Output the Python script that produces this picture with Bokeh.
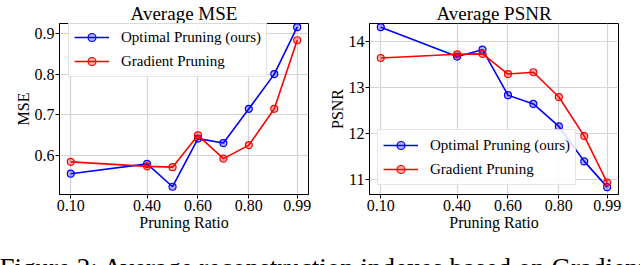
from bokeh.plotting import figure
from bokeh.layouts import row, column
from bokeh.models import FixedTicker, Legend, LegendItem, Label, Range1d, Title
from bokeh.embed import file_html
from bokeh.resources import INLINE

ratios = [0.10, 0.40, 0.50, 0.60, 0.70, 0.80, 0.90, 0.99]
x_ticks = [0.10, 0.40, 0.60, 0.80, 0.99]
x_tick_labels = ["0.10", "0.40", "0.60", "0.80", "0.99"]
mse_optimal = [0.556, 0.580, 0.524, 0.642, 0.631, 0.715, 0.800, 0.915]
mse_gradient = [0.585, 0.574, 0.572, 0.650, 0.593, 0.626, 0.715, 0.883]
psnr_optimal = [14.31, 13.67, 13.82, 12.83, 12.64, 12.15, 11.39, 10.83]
psnr_gradient = [13.64, 13.72, 13.73, 13.29, 13.33, 12.79, 11.94, 10.93]
mse_ticks = [0.6, 0.7, 0.8, 0.9]
mse_tick_labels = ["0.6", "0.7", "0.8", "0.9"]
psnr_ticks = [11, 12, 13, 14]
psnr_tick_labels = ["11", "12", "13", "14"]
series_names = ["Optimal Pruning (ours)", "Gradient Pruning"]
series_colors = ["#0000ff", "#ff0000"]
caption = "Figure 2: Average reconstruction indexes based on Gradient"

FONT = "Liberation Serif"
FIG_H = 240
B_BOT = 46
FRAME_TOP = 22
FRAME_H = FIG_H - B_BOT - FRAME_TOP
FRAME_W = 249


def style_axis(ax, label):
    ax.axis_label = label
    ax.axis_label_text_font = FONT
    ax.axis_label_text_font_size = "16px"
    ax.axis_label_text_font_style = "normal"
    ax.axis_label_text_color = "black"
    ax.major_label_text_font = FONT
    ax.major_label_text_font_size = "16px"
    ax.major_label_text_font_style = "normal"
    ax.major_label_text_color = "black"
    ax.axis_line_color = "black"
    ax.major_tick_line_color = "black"
    ax.major_tick_out = 4
    ax.major_tick_in = 0
    ax.minor_tick_line_color = None
    ax.major_label_standoff = 1
    ax.axis_label_standoff = 0


def make_panel(title, ylabel, ys, yticks, ylabels, yrange, bl, legend_loc):
    ttl = Title(text=title, align="center", text_font=FONT, text_font_size="19px",
                text_font_style="normal", text_color="black", standoff=0, offset=0)
    p = figure(width=320, height=FIG_H, output_backend="svg", toolbar_location=None,
               x_range=Range1d(0.0555, 1.0345), y_range=Range1d(*yrange),
               min_border_left=bl, min_border_right=320 - bl - FRAME_W,
               min_border_top=FRAME_TOP, min_border_bottom=B_BOT, title=ttl)

    p.outline_line_color = "black"
    p.outline_line_width = 1
    p.outline_line_alpha = 1

    xax = p.xaxis[0]
    yax = p.yaxis[0]
    xax.ticker = FixedTicker(ticks=x_ticks)
    xax.major_label_overrides = dict(zip(x_ticks, x_tick_labels))
    yax.ticker = FixedTicker(ticks=yticks)
    yax.major_label_overrides = dict(zip(yticks, ylabels))
    style_axis(xax, "Pruning Ratio")
    style_axis(yax, ylabel)

    p.xgrid[0].ticker = FixedTicker(ticks=x_ticks)
    p.ygrid[0].ticker = FixedTicker(ticks=yticks)
    p.grid.grid_line_color = "#d4d4d4"
    p.grid.grid_line_width = 1.2

    items = []
    for name, y, c in zip(series_names, ys, series_colors):
        ln = p.line(ratios, y, line_color=c, line_width=1.6)
        sc = p.scatter(ratios, y, size=7, marker="circle", line_color=c,
                       line_width=1.2, fill_color=c, fill_alpha=0.3)
        items.append(LegendItem(label=name, renderers=[ln, sc]))
    leg = Legend(items=items, location=legend_loc)
    leg.label_text_font = FONT
    leg.label_text_font_size = "15px"
    leg.label_text_color = "black"
    leg.glyph_width = 35
    leg.glyph_height = 20
    leg.label_height = 20
    leg.label_standoff = 12
    leg.spacing = 4
    leg.padding = 5
    leg.margin = 0
    leg.border_line_color = "#cccccc"
    leg.border_line_width = 1
    leg.background_fill_color = "white"
    leg.background_fill_alpha = 0.85
    p.add_layout(leg, "center")
    return p


p1 = make_panel("Average MSE", "MSE", [mse_optimal, mse_gradient], mse_ticks,
                mse_tick_labels, (0.505, 0.924), 59, (9, FRAME_H - 1 - 54))
p2 = make_panel("Average PSNR", "PSNR", [psnr_optimal, psnr_gradient], psnr_ticks,
                psnr_tick_labels, (10.67, 14.39), 49, (8, 9))

pcap = figure(width=640, height=25, output_backend="svg", toolbar_location=None,
              x_axis_location=None, y_axis_location=None,
              min_border=0, min_border_left=0, min_border_right=0,
              min_border_top=0, min_border_bottom=0)
pcap.outline_line_color = None
pcap.grid.visible = False
pcap.add_layout(Label(x=-1, y=13, x_units="screen", y_units="screen", text=caption,
                      text_font=FONT, text_font_size="27px", text_baseline="top",
                      text_color="black"))

layout = column(row(p1, p2, spacing=0), pcap, spacing=0)
open("out.html", "w").write(file_html(layout, INLINE))
